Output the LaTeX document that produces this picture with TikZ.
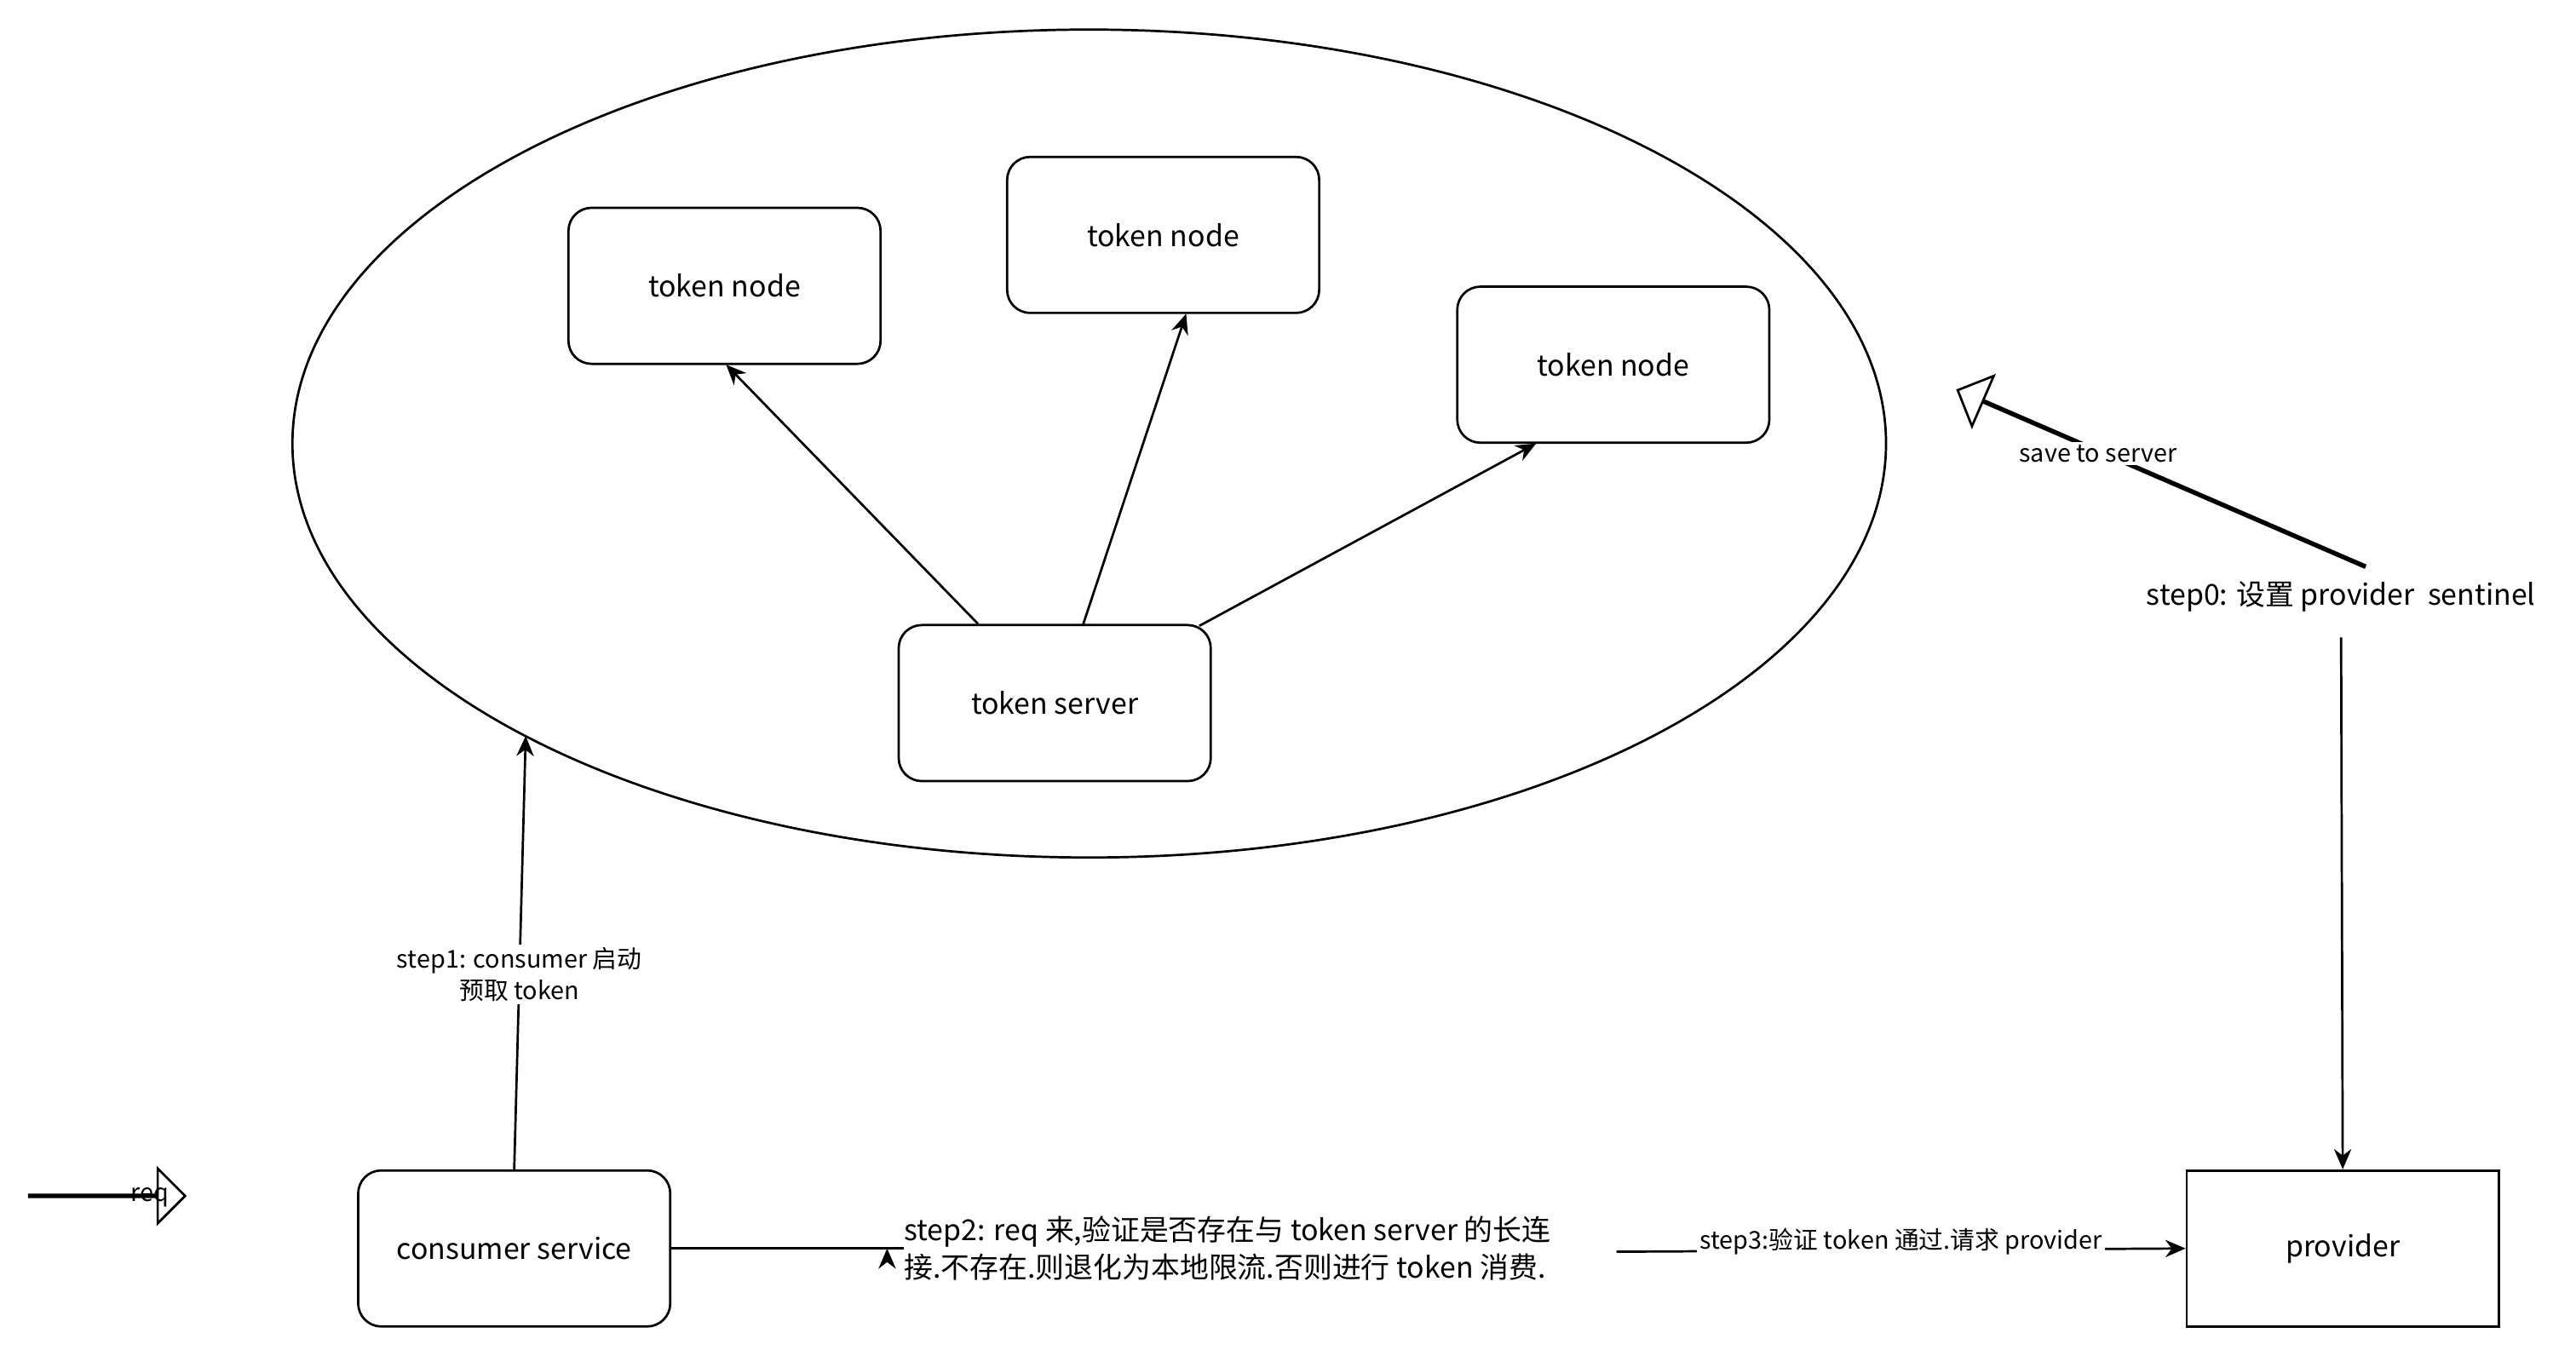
\documentclass[tikz,border=0pt]{standalone}
\usepackage{fontspec}
\setmainfont{Noto Sans CJK SC}
\usetikzlibrary{shapes.arrows,arrows.meta}
\begin{document}
\begin{tikzpicture}[x=0.02cm,y=-0.02cm,
  box/.style={draw,rounded corners=8pt,minimum width=3.8cm,minimum height=1.9cm,font=\fontsize{10}{12}\selectfont,line width=0.8pt},
  arr/.style={-{Stealth[length=7pt,width=6pt]},line width=0.8pt},
  lbl/.style={font=\fontsize{8.5}{11}\selectfont,fill=white,inner sep=1pt,align=center},
  fat/.style={draw,single arrow,line width=0.8pt,single arrow head extend=0.32cm,minimum height=#1,inner sep=0pt,minimum width=0.35cm,anchor=tail}]
\useasboundingbox (0,0) rectangle (1568,825);
\draw[line width=0.8pt] (663,270) ellipse [x radius=485, y radius=252];
\node[box] (n1) at (441,174) {token node};
\node[box] (n2) at (708,143) {token node};
\node[box] (n3) at (982,222) {token node};
\node[box] (ts) at (642,428) {token server};
\node[box] (cs) at (313,760) {consumer service};
\node[box,rounded corners=0pt] (pv) at (1426,760) {provider};
\coordinate (e1) at (320,448);
\draw[arr] (ts.north west)++(49,0) coordinate (a1) -- (442,222) coordinate (b1);
\draw[arr] (659,381) -- (722,191);
\draw[arr] (730,381) -- (935,270);
\draw[arr] (cs.north) -- (e1) node[lbl,pos=0.45] (s1) {step1: consumer 启动\\预取 token};
\node[font=\fontsize{10}{13}\selectfont,align=left,anchor=west,inner sep=0pt] (s2) at (550,760) {step2: req 来,验证是否存在与 token server 的长连\\接.不存在.则退化为本地限流.否则进行 token 消费.};
\draw[arr] (cs.east) -- (s2.west) ++(-10,0);
\coordinate (s3s) at (984,762);
\draw[arr] (s3s) -- (pv.west) node[lbl,midway,yshift=3pt] (s3) {step3:验证 token 通过.请求 provider};
\node[font=\fontsize{10}{12}\selectfont] (s0) at (1425,363) {step0: 设置 provider\ \ sentinel};
\draw[arr] (1425,388) -- (pv.north);
\node[fat=1.9cm,rotate=0] (req) at (17,728) {};
\node[font=\fontsize{8.5}{10}\selectfont,inner sep=0pt] (rl) at (91,729) {req};
\node[fat=5.4cm,rotate=156.6] (sv) at (1440,345) {};
\node[lbl] (svl) at (1277,276) {save to server};
\end{tikzpicture}
\end{document}
